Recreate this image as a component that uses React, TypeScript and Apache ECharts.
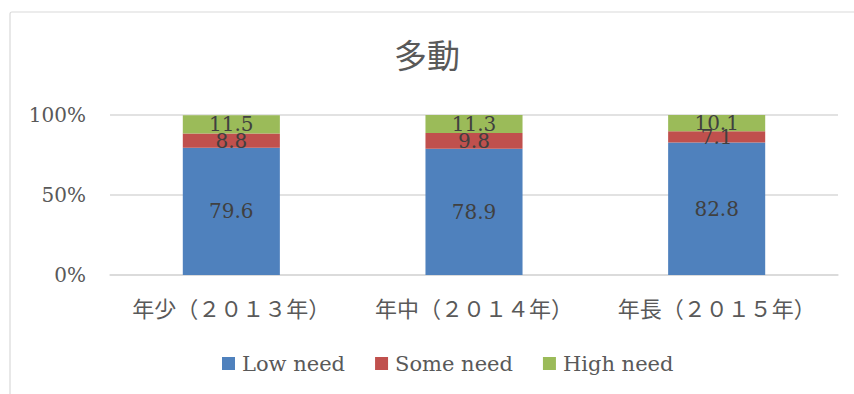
import React, { useEffect, useRef } from "react";
import * as echarts from "echarts";

const categories = ["年少（２０１３年）", "年中（２０１４年）", "年長（２０１５年）"];
const lowNeed = [79.6, 78.9, 82.8];
const someNeed = [8.8, 9.8, 7.1];
const highNeed = [11.5, 11.3, 10.1];
const yTicks = [0, 50, 100];

const LATIN = "'DejaVu Serif', 'Liberation Serif', serif";
const CJK = "'Noto Sans CJK JP', 'Noto Sans CJK SC', sans-serif";
const TEXT = "#595959";

export default function App() {
  const ref = useRef<HTMLDivElement>(null);

  useEffect(() => {
    if (!ref.current) return;
    const chart = echarts.init(ref.current, undefined, { renderer: "svg" });

    const seriesDef = [
      { name: "Low need", data: lowNeed, color: "#4F81BD" },
      { name: "Some need", data: someNeed, color: "#C0504D" },
      { name: "High need", data: highNeed, color: "#9BBB59" },
    ];

    chart.setOption({
      animation: false,
      backgroundColor: "#ffffff",
      graphic: [
        {
          type: "rect",
          shape: { x: 10, y: 12, width: 900, height: 420, r: 2 },
          style: { fill: "none", stroke: "#D9D9D9", lineWidth: 1.2 },
          silent: true,
          z: -1,
        },
      ],
      title: {
        text: "多動",
        left: "center",
        top: 32,
        textStyle: { fontFamily: CJK, fontSize: 33, fontWeight: "normal", color: TEXT },
      },
      legend: {
        data: seriesDef.map((s) => s.name),
        left: 217,
        top: 348,
        icon: "rect",
        itemWidth: 13,
        itemHeight: 13,
        itemGap: 30,
        textStyle: { fontFamily: LATIN, fontSize: 21, color: TEXT, padding: [0, 0, 0, 2] },
      },
      grid: { left: 110, right: 16, top: 115, bottom: 119, containLabel: false },
      xAxis: {
        type: "category",
        data: categories,
        axisLine: { show: true, lineStyle: { color: "#D9D9D9", width: 1.5 } },
        axisTick: { show: false },
        axisLabel: { fontFamily: CJK, fontSize: 22, color: TEXT, margin: 21, interval: 0 },
      },
      yAxis: {
        type: "value",
        min: yTicks[0],
        max: yTicks[yTicks.length - 1],
        interval: 50,
        axisLine: { show: false },
        axisTick: { show: false },
        splitLine: { lineStyle: { color: "#D9D9D9", width: 1.5 } },
        axisLabel: {
          fontFamily: LATIN,
          fontSize: 20,
          color: TEXT,
          margin: 24,
          formatter: "{value}%",
        },
      },
      series: seriesDef.map((s) => ({
        name: s.name,
        type: "bar",
        stack: "total",
        barWidth: "40%",
        data: s.data,
        itemStyle: { color: s.color },
        label: {
          show: true,
          position: "inside",
          fontFamily: LATIN,
          fontSize: 20,
          color: "#404040",
          formatter: (p: any) => p.value.toFixed(1),
        },
      })),
    });

    return () => chart.dispose();
  }, []);

  return (
    <div
      ref={ref}
      style={{ position: "fixed", left: 0, top: 0, width: 854, height: 394 }}
    />
  );
}
